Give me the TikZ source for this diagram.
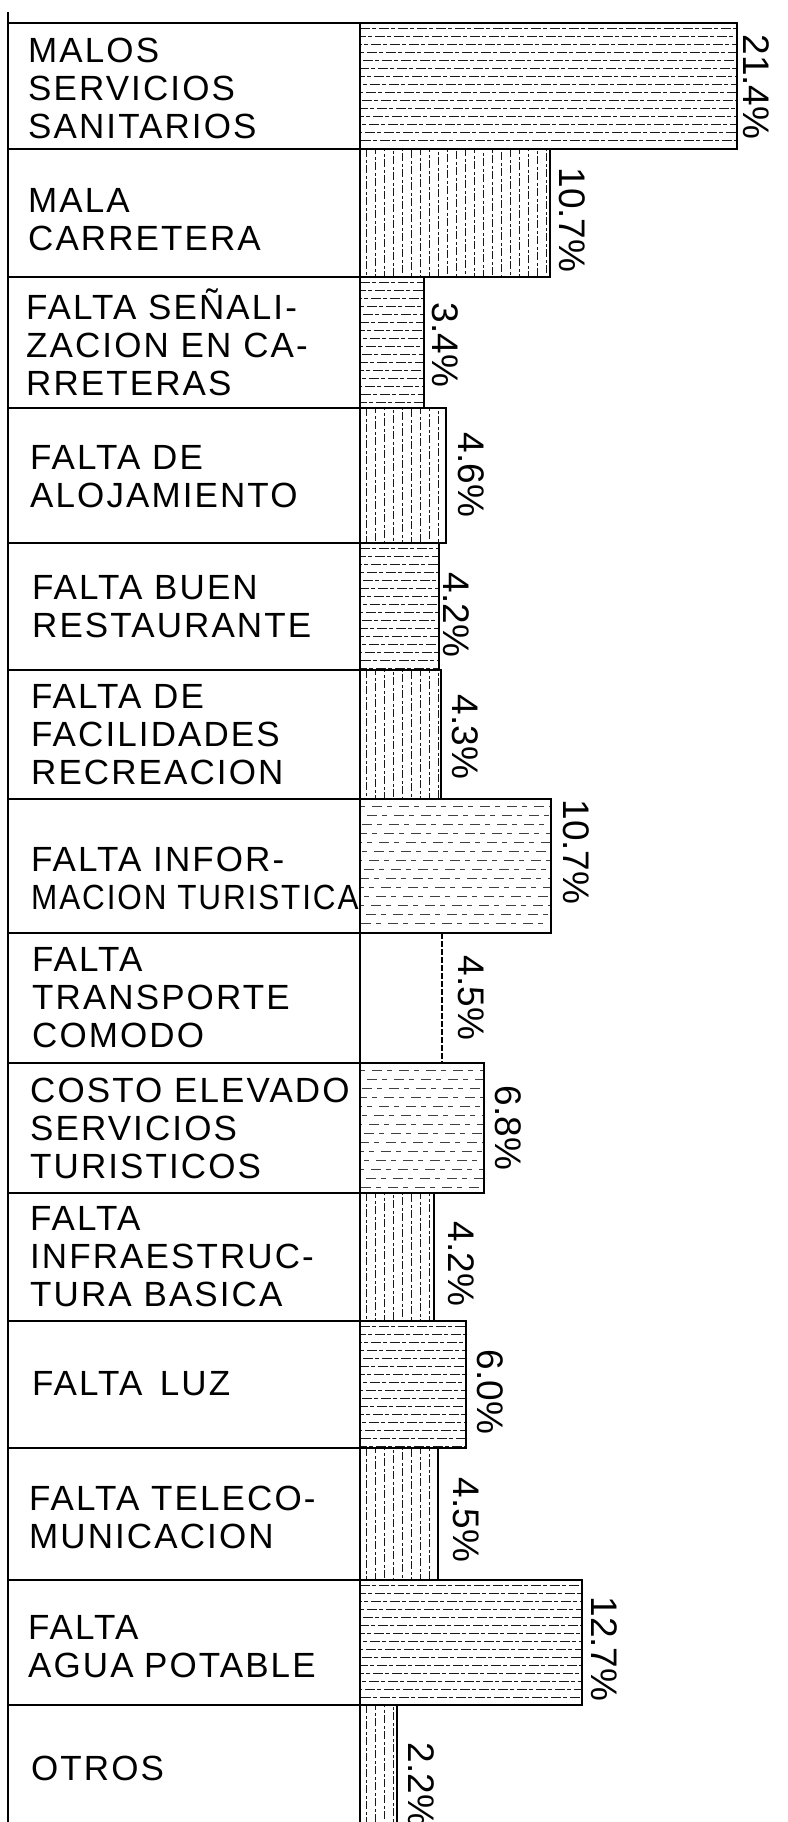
\documentclass[tikz,border=0pt]{standalone}
\usepackage{graphicx}
\usepackage{fontspec}
\setmainfont{Liberation Sans}
\newfontfamily\lblfont[LetterSpace=6]{Liberation Sans}
\begin{document}
\begin{tikzpicture}[x=1pt,y=-1pt,
  lbl/.style={anchor=west,inner sep=0pt,align=left,font=\lblfont\fontsize{35}{38}\selectfont},
  pct/.style={rotate=-90,inner sep=0pt,font=\fontsize{37}{40}\selectfont},
  rowline/.style={line width=2.4pt},
  axis/.style={line width=1.5pt},
  barbox/.style={line width=1.1pt},
  hh/.style={line width=0.9pt,black!90,dash pattern=on 10pt off 2pt on 4pt off 3pt},
  vv/.style={line width=0.9pt,black!90,dash pattern=on 8pt off 3pt on 3pt off 2pt},
  hlight/.style={line width=0.9pt,black!75,dash pattern=on 5pt off 7pt on 10pt off 5pt}]
\useasboundingbox (0,0) rectangle (787,1822);
\fill[white] (0,0) rectangle (787,1822);

% horizontal-hatched bars
\foreach \t/\b/\e in {23/149/737, 277/408/424, 543/670/439, 1321/1448/466, 1580/1705/582}{
  \begin{scope}
    \clip (361,{\t+1}) rectangle ({\e-1},{\b-1});
    \foreach \k in {0,...,16}
      \draw[hh,dash phase={4*\k}] (360,{\t+5+8*\k}) -- (\e,{\t+5+8*\k});
  \end{scope}
  \draw[barbox] (360,\t) rectangle (\e,\b);
}
% sparse horizontal-hatched bars
\foreach \t/\b/\e in {799/933/551, 1063/1193/484}{
  \begin{scope}
    \clip (361,{\t+1}) rectangle ({\e-1},{\b-1});
    \foreach \k in {0,...,14}
      \draw[hlight,dash phase={5*\k}] (360,{\t+7+9*\k}) -- (\e,{\t+7+9*\k});
  \end{scope}
  \draw[barbox] (360,\t) rectangle (\e,\b);
}
% vertical-hatched bars
\foreach \t/\b/\e in {149/277/550, 408/543/446, 670/799/441, 1193/1321/434, 1448/1580/438, 1705/1832/397}{
  \begin{scope}
    \clip (361,{\t+1}) rectangle ({\e-1},{\b-1});
    \foreach \k in {0,...,22}
      \draw[vv,dash phase={3*\k}] ({366+9*\k},\t) -- ({366+9*\k},\b);
  \end{scope}
  \draw[barbox] (360,\t) rectangle (\e,\b);
}
% empty bar (transporte)
\draw[barbox] (360,933) -- (442,933);
\draw[barbox,dash pattern=on 6pt off 2pt] (442,933) -- (442,1063);
\draw[barbox] (360,1063) -- (442,1063);

% label column
\draw[axis] (8,12) -- (8,1822);
\draw[axis] (360,23) -- (360,1822);
\foreach \y in {23,149,277,408,543,670,799,933,1063,1193,1321,1448,1580,1705}
  \draw[rowline] (8,\y) -- (360,\y);

% labels
\node[lbl] (l1) at (28,88) {MALOS\\SERVICIOS\\SANITARIOS};
\node[lbl] (l2) at (28,220) {MALA\\CARRETERA};
\node[lbl] (l3) at (26,342) {FALTA SEÑALI-\\ZACION EN CA-\\RRETERAS};
\node[lbl] (l4) at (30,477) {FALTA DE\\ALOJAMIENTO};
\node[lbl] (l5) at (32,607) {FALTA BUEN\\RESTAURANTE};
\node[lbl] (l6) at (31,735) {FALTA DE\\FACILIDADES\\RECREACION};
\node[lbl] (l7) at (31,878) {FALTA INFOR-\\\scalebox{0.9}[1]{MACION TURISTICA}};
\node[lbl] (l8) at (32,998) {FALTA\\TRANSPORTE\\COMODO};
\node[lbl] (l9) at (30,1128) {COSTO ELEVADO\\SERVICIOS\\TURISTICOS};
\node[lbl] (l10) at (30,1257) {FALTA\\INFRAESTRUC-\\TURA BASICA};
\node[lbl] (l11) at (32,1384) {FALTA\hspace{0.5em}LUZ};
\node[lbl] (l12) at (29,1517) {FALTA TELECO-\\MUNICACION};
\node[lbl] (l13) at (28,1647) {FALTA\\AGUA\hspace{0.3em}POTABLE};
\node[lbl] (l14) at (31,1768) {OTROS};

% percentages
\node[pct] (p1) at (756,87) {21.4\%};
\node[pct] (p2) at (572,220) {10.7\%};
\node[pct] (p3) at (445,345) {3.4\%};
\node[pct] (p4) at (471,475) {4.6\%};
\node[pct] (p5) at (456,615) {4.2\%};
\node[pct] (p6) at (465,737) {4.3\%};
\node[pct] (p7) at (576,852) {10.7\%};
\node[pct] (p8) at (471,998) {4.5\%};
\node[pct] (p9) at (508,1128) {6.8\%};
\node[pct] (p10) at (461,1264) {4.2\%};
\node[pct] (p11) at (490,1392) {6.0\%};
\node[pct] (p12) at (466,1520) {4.5\%};
\node[pct] (p13) at (604,1649) {12.7\%};
\node[pct] (p14) at (421,1785) {2.2\%};
\end{tikzpicture}
\end{document}
